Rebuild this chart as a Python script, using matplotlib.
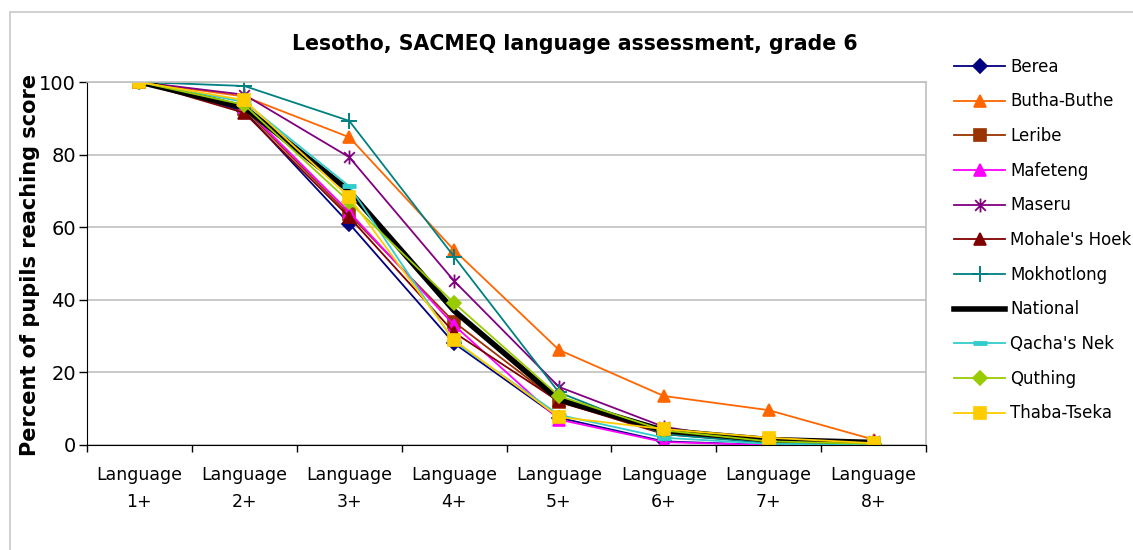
import matplotlib.pyplot as plt
from matplotlib.patches import Rectangle
from matplotlib.path import Path

plt.rcParams['font.family'] = ['DejaVu Sans']

levels = ['Language\n1+', 'Language\n2+', 'Language\n3+', 'Language\n4+',
          'Language\n5+', 'Language\n6+', 'Language\n7+', 'Language\n8+']

berea = [100, 92.0, 61.0, 28.0, 7.5, 1.0, 0.0, 0.2]
butha_buthe = [100, 96.0, 84.8, 53.7, 26.2, 13.5, 9.6, 1.5]
leribe = [100, 92.5, 63.5, 33.9, 11.8, 3.5, 0.8, 0.3]
mafeteng = [100, 93.0, 64.2, 33.0, 7.0, 0.8, 0.0, 0.2]
maseru = [100, 96.5, 79.3, 45.2, 16.0, 5.0, 0.5, 1.0]
mohales_hoek = [100, 91.5, 62.8, 31.0, 12.0, 3.0, 0.7, 0.3]
mokhotlong = [100, 98.9, 89.3, 51.9, 14.5, 3.0, 0.5, 0.2]
national = [100, 93.0, 70.0, 37.0, 12.5, 4.0, 1.5, 0.7]
qachas_nek = [100, 94.5, 71.3, 28.5, 8.3, 2.0, 0.3, 0.1]
quthing = [100, 93.7, 67.0, 39.1, 13.5, 4.0, 1.0, 0.3]
thaba_tseka = [100, 95.0, 68.3, 28.9, 7.7, 4.4, 2.0, 0.5]

# excel style asterisk: an x with a vertical stroke
star = Path([(-1, -1), (1, 1), (-1, 1), (1, -1), (0, -1.3), (0, 1.3)],
            [Path.MOVETO, Path.LINETO] * 3)

series = [
    ('Berea', berea, '#000080', 'D', 1.3),
    ('Butha-Buthe', butha_buthe, '#FF6600', '^', 1.3),
    ('Leribe', leribe, '#993300', 's', 1.3),
    ('Mafeteng', mafeteng, '#FF00FF', '^', 1.3),
    ('Maseru', maseru, '#800080', star, 1.3),
    ("Mohale's Hoek", mohales_hoek, '#800000', '^', 1.3),
    ('Mokhotlong', mokhotlong, '#008080', '+', 1.3),
    ('National', national, '#000000', None, 4.0),
    ("Qacha's Nek", qachas_nek, '#33CCCC', '_', 1.3),
    ('Quthing', quthing, '#99CC00', 'D', 1.3),
    ('Thaba-Tseka', thaba_tseka, '#FFCC00', 's', 1.3),
]

fig = plt.figure(figsize=(11.33, 5.5), dpi=100)
fig.patches.append(Rectangle((10 / 1133, -0.1), 1.2, 1 - 12 / 550 + 0.1,
                             transform=fig.transFigure, fill=False,
                             edgecolor='#C8C8C8', linewidth=1.2))

ax = fig.add_axes([87 / 1133, 1 - 445 / 550, (926 - 87) / 1133, (445 - 82) / 550])

x = list(range(len(levels)))
for name, vals, color, marker, lw in series:
    ms = 8.5
    mew = 1.2
    if isinstance(marker, Path):
        ms = 10
        mew = 1.3
    elif marker == '+':
        ms = 12
        mew = 1.4
    elif marker == '_':
        ms = 10
        mew = 3.5
    elif marker == 'D':
        ms = 7.5
    ax.plot(x, vals, color=color, linewidth=lw, marker=marker, markersize=ms,
            markeredgewidth=mew, markerfacecolor=color, markeredgecolor=color,
            label=name, solid_joinstyle='miter')

ax.set_xlim(-0.5, len(levels) - 0.5)
ax.set_ylim(0, 100)
ax.set_yticks([0, 20, 40, 60, 80, 100])
ax.yaxis.grid(True, color='#C0C0C0', linewidth=1.2)
ax.set_axisbelow(True)
ax.tick_params(axis='y', labelsize=14, length=6, width=1, direction='out', pad=2)

ax.set_xticks([i - 0.5 for i in range(len(levels) + 1)])
ax.set_xticklabels([])
ax.set_xticks(x, minor=True)
ax.set_xticklabels(levels, minor=True, fontsize=12.5, linespacing=1.65)
ax.tick_params(axis='x', which='major', length=5, width=1, direction='out')
ax.tick_params(axis='x', which='minor', length=0, pad=15)

ax.spines['left'].set_color('black')
ax.spines['bottom'].set_color('black')
ax.spines['top'].set_color('#C0C0C0')
ax.spines['right'].set_color('#C0C0C0')
ax.spines['top'].set_linewidth(1.2)
ax.spines['right'].set_linewidth(1.2)

fig.text(575 / 1133, 1 - 44 / 550, 'Lesotho, SACMEQ language assessment, grade 6',
         ha='center', va='center', fontsize=14.8, fontweight='bold')
fig.text(30 / 1133, 1 - 265 / 550, 'Percent of pupils reaching score',
         ha='center', va='center', rotation=90, fontsize=15, fontweight='bold')

fig.legend(loc='upper left', bbox_to_anchor=(947 / 1133, 1 - 51 / 550),
           frameon=False, fontsize=12, handlelength=3.1, handletextpad=0.3,
           labelspacing=1.0, borderaxespad=0)

fig.savefig('out.png', dpi=100)
